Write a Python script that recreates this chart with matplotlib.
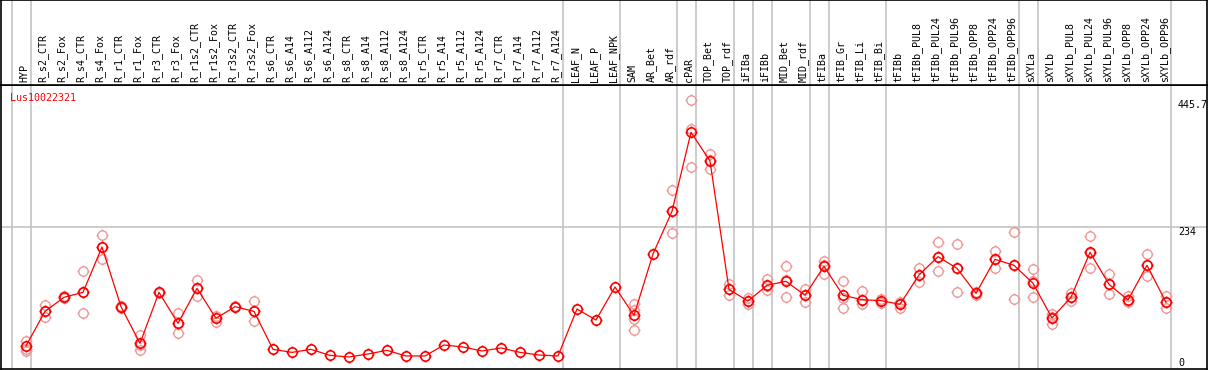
import matplotlib
matplotlib.use("Agg")
import matplotlib.pyplot as plt
import matplotlib.transforms as mtransforms
import numpy as np
from matplotlib.path import Path

# Sample labels (header), one per column
samples = [
    "HYP",
    "R_s2_CTR", "R_s2_Fox", "R_s4_CTR", "R_s4_Fox", "R_r1_CTR", "R_r1_Fox",
    "R_r3_CTR", "R_r3_Fox", "R_r1s2_CTR", "R_r1s2_Fox", "R_r3s2_CTR", "R_r3s2_Fox",
    "R_s6_CTR", "R_s6_A14", "R_s6_A112", "R_s6_A124",
    "R_s8_CTR", "R_s8_A14", "R_s8_A112", "R_s8_A124",
    "R_r5_CTR", "R_r5_A14", "R_r5_A112", "R_r5_A124",
    "R_r7_CTR", "R_r7_A14", "R_r7_A112", "R_r7_A124",
    "LEAF_N", "LEAF_P", "LEAF_NPK",
    "SAM", "AR_Bet", "AR_rdf",
    "cPAR",
    "TOP_Bet", "TOP_rdf",
    "iFIBa", "iFIBb",
    "MID_Bet", "MID_rdf",
    "tFIBa",
    "tFIB_Gr", "tFIB_Li", "tFIB_Bi",
    "tFIBb", "tFIBb_PUL8", "tFIBb_PUL24", "tFIBb_PUL96",
    "tFIBb_OPP8", "tFIBb_OPP24", "tFIBb_OPP96",
    "sXYLa",
    "sXYLb", "sXYLb_PUL8", "sXYLb_PUL24", "sXYLb_PUL96",
    "sXYLb_OPP8", "sXYLb_OPP24", "sXYLb_OPP96",
]

# Number of columns in each tissue group (separated by grey lines)
group_sizes = [1, 28, 3, 3, 1, 2, 1, 1, 2, 1, 3, 7, 1, 7]

# Mean expression per sample
means = [
    36.6,
    94.2, 117.5, 125.8, 201.2, 102.0, 41.0,
    125.8, 74.3, 132.5, 82.6, 102.0, 94.2,
    31.0, 26.0, 31.0, 21.0,
    18.3, 23.3, 29.4, 20.0,
    20.0, 38.3, 34.9, 28.3,
    33.3, 26.0, 21.6, 20.0,
    98.1, 79.8, 134.7,
    87.6, 189.6, 260.6,
    392.0,
    344.3, 130.8,
    111.4, 137.5,
    144.2, 120.9,
    169.1,
    120.9, 113.6, 112.0,
    106.0, 154.7, 185.2, 165.7,
    124.2, 180.7, 170.8,
    140.9,
    83.2, 117.6, 192.4, 139.2,
    113.1, 170.8, 109.3,
]

# Individual replicates per sample
replicates = [
    [45, 31, 28],
    [104, 94, 85], [119, 116], [161, 126, 91], [222, 201, 181], [103, 100], [55, 38, 30],
    [127, 125], [91, 74, 59], [146, 133, 119], [87, 77], [103, 101], [111, 94, 78],
    [], [], [], [],
    [], [], [], [],
    [], [], [], [],
    [], [], [], [],
    [], [], [],
    [106, 97, 81, 64], [], [296, 261, 225],
    [445.7, 397, 334],
    [356, 346, 331], [140, 131, 121],
    [116, 112, 106], [148, 137, 129],
    [169, 146, 118], [131, 122, 109],
    [178, 172, 157],
    [145, 116, 100], [128, 113, 106], [115, 112, 108],
    [110, 106, 99], [166, 155, 143], [209, 185, 162], [206, 166, 126],
    [126, 122], [195, 181, 167], [227, 171, 115],
    [164, 145, 118],
    [90, 84, 74], [124, 118, 111], [219, 192, 167], [156, 139, 123],
    [119, 113, 109], [190, 171, 153], [119, 109, 100],
]

gene = "Lus10022321"
y_marks = [445.7, 234, 0]
y_mark_labels = ["445.7", "234", "0"]

# circle marker with four short ticks
circ = Path.unit_circle()
verts = list(circ.vertices)
codes = list(circ.codes)
for dx, dy in [(0, 1), (0, -1), (1, 0), (-1, 0)]:
    verts += [(dx * 1.0, dy * 1.0), (dx * 1.28, dy * 1.28)]
    codes += [Path.MOVETO, Path.LINETO]
tick_circle = Path(verts, codes)

W, H = 1209, 370
fig = plt.figure(figsize=(W / 100, H / 100), dpi=100)

x = np.arange(len(samples))
xlim = ((1 - 26) / 19, (1207 - 26) / 19)
ylim = ((368 - 369) / 0.6013, (368 - 85) / 0.6013)

ax = fig.add_axes([1 / W, 1 - 369 / H, 1206 / W, 284 / H])
head = fig.add_axes([1 / W, 1 - 85 / H, 1206 / W, 85 / H], sharex=ax)

ends = np.cumsum(group_sizes) - 1
bounds = np.concatenate([[-1], ends]) + 0.24
for b in bounds:
    ax.axvline(b, color="#c4c4c4", lw=1.2, zorder=0)
    head.axvline(b, color="#c4c4c4", lw=1.2, zorder=0)
ax.axhline(234, color="#c4c4c4", lw=1.2, zorder=0)

# replicates
rx = [i for i, r in enumerate(replicates) for _ in r]
ry = [v for r in replicates for v in r]
ax.plot(rx, ry, ls="none", marker=tick_circle, ms=8.6, mfc="none",
        mec="#ee9a9a", mew=1.0, zorder=2)

ax.plot(x, means, color="red", lw=0.9, zorder=3)
ax.plot(x, means, ls="none", marker=tick_circle, ms=8.6, mfc="none",
        mec="red", mew=1.2, zorder=4)

# value labels at right edge
trans = mtransforms.blended_transform_factory(ax.transAxes, ax.transData)
for v, lab in zip(y_marks, y_mark_labels):
    va = "bottom" if v == 0 else "top"
    ax.text(1177 / 1206, v, lab, transform=trans, fontsize=7.2,
            family="DejaVu Sans Mono", va=va, ha="left")

ax.text(0.0075, 0.955, gene, transform=ax.transAxes, color="red",
        fontsize=7.2, family="DejaVu Sans Mono", va="center", ha="left")

ax.set_xlim(*xlim)
ax.set_ylim(*ylim)
ax.set_xticks([])
ax.set_yticks([])

for i, s in enumerate(samples):
    head.text(i - 0.1, 0.03, s, rotation=90, ha="center", va="bottom",
              fontsize=7.2, family="DejaVu Sans Mono")
head.set_ylim(0, 1)
head.set_yticks([])
head.tick_params(axis="x", bottom=False, labelbottom=False)

for a in (ax, head):
    for sp in a.spines.values():
        sp.set_color("black")
        sp.set_linewidth(1.2)

fig.savefig("out.png", dpi=100)
